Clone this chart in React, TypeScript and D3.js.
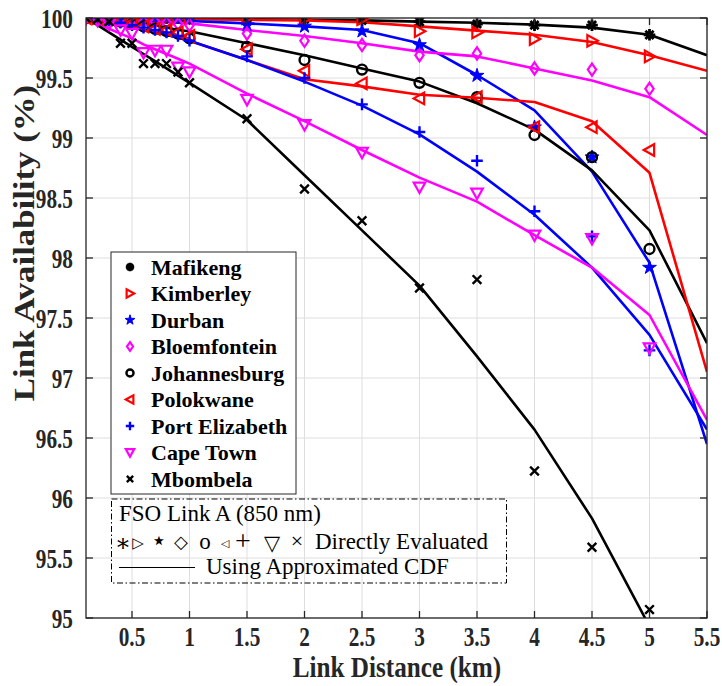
import React from 'react';
import * as d3 from 'd3';

const distances = [0.1, 0.2, 0.3, 0.4, 0.5, 0.6, 0.7, 0.8, 0.9, 1.0, 1.5, 2.0, 2.5, 3.0, 3.5, 4.0, 4.5, 5.0, 5.5];
const markerDistances = distances.slice(0, 18);

const cities = ['Mafikeng', 'Kimberley', 'Durban', 'Bloemfontein', 'Johannesburg', 'Polokwane', 'Port Elizabeth', 'Cape Town', 'Mbombela'];
const cityColors = ['#000000', '#ff0000', '#0000ff', '#ff00ff', '#000000', '#ff0000', '#0000ff', '#ff00ff', '#000000'];
const cityMarkers = ['asterisk', 'triangleRight', 'pentagram', 'diamond', 'circle', 'triangleLeft', 'plus', 'triangleDown', 'cross'];

// Directly evaluated (markers), distances 0.1 .. 5.0
const mafikengEval = [100, 100, 100, 100, 100, 100, 100, 100, 100, 100, 100, 99.99, 99.98, 99.97, 99.95, 99.94, 99.94, 99.86];
const kimberleyEval = [100, 100, 100, 100, 100, 100, 100, 100, 100, 100, 100, 99.99, 99.99, 99.89, 99.88, 99.825, 99.81, 99.68];
const durbanEval = [100, 100, 100, 100, 100, 100, 100, 100, 99.99, 99.99, 99.94, 99.93, 99.89, 99.775, 99.52, 99.09, 98.84, 97.92];
const bloemfonteinEval = [100, 100, 99.99, 99.99, 99.98, 99.97, 99.97, 99.96, 99.95, 99.94, 99.87, 99.81, 99.775, 99.69, 99.705, 99.58, 99.57, 99.41];
const johannesburgEval = [100, 100, 99.99, 99.97, 99.95, 99.93, 99.91, 99.89, 99.87, 99.83, 99.76, 99.65, 99.57, 99.46, 99.34, 99.025, 98.84, 98.075];
const polokwaneEval = [100, 100, 99.99, 99.98, 99.96, 99.93, 99.91, 99.9, 99.88, 99.85, 99.74, 99.56, 99.455, 99.33, 99.34, 99.09, 99.09, 98.9];
const portElizabethEval = [100, 99.99, 99.98, 99.96, 99.94, 99.92, 99.9, 99.88, 99.85, 99.81, 99.68, 99.5, 99.28, 99.05, 98.81, 98.39, 98.18, 97.23];
const capeTownEval = [100, 99.98, 99.95, 99.9, 99.87, 99.71, 99.73, 99.73, 99.59, 99.55, 99.32, 99.11, 98.88, 98.59, 98.54, 98.19, 98.16, 97.25];
const mbombelaEval = [100, 99.99, 99.97, 99.79, 99.79, 99.62, 99.62, 99.62, 99.55, 99.46, 99.16, 98.575, 98.31, 97.75, 97.82, 96.225, 95.59, 95.07];

// Using approximated CDF (lines), distances 0.1 .. 5.5
const mafikengApprox = [100, 100, 100, 100, 100, 100, 100, 100, 100, 99.995, 99.99, 99.985, 99.98, 99.97, 99.96, 99.945, 99.92, 99.86, 99.69];
const kimberleyApprox = [100, 100, 100, 100, 100, 100, 100, 100, 99.995, 99.99, 99.985, 99.98, 99.965, 99.93, 99.895, 99.86, 99.8, 99.69, 99.56];
const durbanApprox = [100, 100, 100, 99.995, 99.99, 99.99, 99.985, 99.98, 99.98, 99.975, 99.955, 99.93, 99.9, 99.79, 99.525, 99.23, 98.72, 97.96, 96.45];
const bloemfonteinApprox = [100, 99.995, 99.99, 99.985, 99.98, 99.975, 99.97, 99.965, 99.96, 99.955, 99.9, 99.85, 99.79, 99.72, 99.68, 99.58, 99.48, 99.34, 99.025];
const johannesburgApprox = [100, 99.99, 99.98, 99.97, 99.96, 99.95, 99.94, 99.92, 99.9, 99.89, 99.79, 99.69, 99.58, 99.47, 99.29, 99.07, 98.73, 98.23, 97.29];
const polokwaneApprox = [100, 99.98, 99.96, 99.94, 99.92, 99.9, 99.88, 99.86, 99.835, 99.81, 99.65, 99.49, 99.43, 99.36, 99.335, 99.3, 99.14, 98.71, 97.05];
const portElizabethApprox = [100, 99.98, 99.96, 99.94, 99.92, 99.9, 99.88, 99.86, 99.835, 99.81, 99.65, 99.47, 99.27, 99.03, 98.72, 98.36, 97.92, 97.36, 96.57];
const capeTownApprox = [100, 99.96, 99.91, 99.87, 99.83, 99.78, 99.74, 99.7, 99.66, 99.62, 99.37, 99.14, 98.9, 98.67, 98.47, 98.19, 97.92, 97.525, 96.65];
const mbombelaApprox = [100, 99.94, 99.88, 99.82, 99.76, 99.7, 99.64, 99.58, 99.52, 99.46, 99.15, 98.69, 98.23, 97.77, 97.18, 96.57, 95.83, 94.93, 93.8];

const xTicks = [0.5, 1, 1.5, 2, 2.5, 3, 3.5, 4, 4.5, 5, 5.5];
const xTickLabels = ['0.5', '1', '1.5', '2', '2.5', '3', '3.5', '4', '4.5', '5', '5.5'];
const yTicks = [95, 95.5, 96, 96.5, 97, 97.5, 98, 98.5, 99, 99.5, 100];
const yTickLabels = ['95', '95.5', '96', '96.5', '97', '97.5', '98', '98.5', '99', '99.5', '100'];

const evalSeries = [mafikengEval, kimberleyEval, durbanEval, bloemfonteinEval, johannesburgEval, polokwaneEval, portElizabethEval, capeTownEval, mbombelaEval];
const approxSeries = [mafikengApprox, kimberleyApprox, durbanApprox, bloemfonteinApprox, johannesburgApprox, polokwaneApprox, portElizabethApprox, capeTownApprox, mbombelaApprox];

const W = 722;
const H = 686;
const left = 86, right = 707, top = 18, bottom = 618;
const xScale = d3.scaleLinear().domain([0.1, 5.5]).range([left, right]);
const yScale = d3.scaleLinear().domain([95, 100]).range([bottom, top]);

const serif = { fontFamily: 'Liberation Serif, Times New Roman, DejaVu Serif, serif' };
const sym = { fontFamily: 'DejaVu Sans, sans-serif' };

function Marker({ type, x, y, s, color }: { type: string; x: number; y: number; s: number; color: string }) {
  const sw = 2.2;
  const t = `translate(${x},${y})`;
  switch (type) {
    case 'asterisk': {
      const k = s * 0.707;
      return <path transform={t} d={`M${-s},0H${s}M0,${-s}V${s}M${-k},${-k}L${k},${k}M${-k},${k}L${k},${-k}`} stroke={color} strokeWidth={2.8} fill="none" />;
    }
    case 'triangleRight':
      return <path transform={t} d={`M${s},0L${-s * 0.8},${-s}L${-s * 0.8},${s}Z`} stroke={color} strokeWidth={sw} fill="none" />;
    case 'triangleLeft':
      return <path transform={t} d={`M${-s},0L${s * 0.8},${-s}L${s * 0.8},${s}Z`} stroke={color} strokeWidth={sw} fill="none" />;
    case 'triangleDown':
      return <path transform={t} d={`M${-s},${-s * 0.8}L${s},${-s * 0.8}L0,${s}Z`} stroke={color} strokeWidth={sw} fill="none" />;
    case 'pentagram': {
      const size = (s * 1.25) * (s * 1.25) / 0.8908;
      const d = d3.symbol().type(d3.symbolStar).size(size)() as string;
      return <path transform={t} d={d} fill={color} stroke={color} strokeWidth={1} />;
    }
    case 'diamond':
      return <path transform={t} d={`M0,${-s * 1.05}L${s * 0.72},0L0,${s * 1.05}L${-s * 0.72},0Z`} stroke={color} strokeWidth={sw} fill="none" />;
    case 'circle':
      return <circle cx={x} cy={y} r={s * 0.85} stroke={color} strokeWidth={2.4} fill="none" />;
    case 'plus':
      return <path transform={t} d={`M${-s},0H${s}M0,${-s}V${s}`} stroke={color} strokeWidth={2.4} fill="none" />;
    case 'cross': {
      const k = s * 0.75;
      return <path transform={t} d={`M${-k},${-k}L${k},${k}M${-k},${k}L${k},${-k}`} stroke={color} strokeWidth={2.4} fill="none" />;
    }
    default:
      return null;
  }
}

export default function App() {
  const line = d3.line<number>().x((_, i) => xScale(distances[i])).y((v) => yScale(v));

  const tickLen = 7;
  const legendX = 111, legendY = 252, legendW = 185, legendH = 242;
  const rowY0 = 267, rowStep = 26.5;

  return (
    <svg width={W} height={H} style={{ position: 'absolute', left: 0, top: 0, background: '#fff' }} xmlns="http://www.w3.org/2000/svg">
      <defs>
        <clipPath id="plotClip">
          <rect x={left} y={top} width={right - left} height={bottom - top} />
        </clipPath>
      </defs>
      <rect x={0} y={0} width={W} height={H} fill="#ffffff" />

      {xTicks.map((t) => (
        <line key={'gx' + t} x1={xScale(t)} x2={xScale(t)} y1={top} y2={bottom} stroke="#dedede" strokeWidth={1} />
      ))}
      {yTicks.map((t) => (
        <line key={'gy' + t} x1={left} x2={right} y1={yScale(t)} y2={yScale(t)} stroke="#dedede" strokeWidth={1} />
      ))}

      <g clipPath="url(#plotClip)">
        {approxSeries.map((vals, i) => (
          <path key={'l' + i} d={line(vals) as string} fill="none" stroke={cityColors[i]} strokeWidth={2.6} strokeLinejoin="round" />
        ))}
        {evalSeries.map((vals, i) => (
          <g key={'m' + i}>
            {vals.map((v, j) => (
              <Marker key={j} type={cityMarkers[i]} x={xScale(markerDistances[j])} y={yScale(v)} s={5.8} color={cityColors[i]} />
            ))}
          </g>
        ))}
      </g>

      <rect x={left} y={top} width={right - left} height={bottom - top} fill="none" stroke="#262626" strokeWidth={1.3} />
      {xTicks.map((t) => (
        <g key={'tx' + t}>
          <line x1={xScale(t)} x2={xScale(t)} y1={bottom} y2={bottom - tickLen} stroke="#262626" strokeWidth={1.3} />
          <line x1={xScale(t)} x2={xScale(t)} y1={top} y2={top + tickLen} stroke="#262626" strokeWidth={1.3} />
        </g>
      ))}
      {yTicks.map((t) => (
        <g key={'ty' + t}>
          <line x1={left} x2={left + tickLen} y1={yScale(t)} y2={yScale(t)} stroke="#262626" strokeWidth={1.3} />
          <line x1={right} x2={right - tickLen} y1={yScale(t)} y2={yScale(t)} stroke="#262626" strokeWidth={1.3} />
        </g>
      ))}

      {xTicks.map((t, i) => (
        <text key={'xl' + t} transform={`translate(${xScale(t)},646) scale(0.76,1)`} textAnchor="middle" style={serif} fontWeight="bold" fontSize={28} fill="#262626">
          {xTickLabels[i]}
        </text>
      ))}
      {yTicks.map((t, i) => (
        <text key={'yl' + t} transform={`translate(73,${yScale(t) + 9.5}) scale(0.76,1)`} textAnchor="end" style={serif} fontWeight="bold" fontSize={28} fill="#262626">
          {yTickLabels[i]}
        </text>
      ))}

      <text transform={`translate(397,677) scale(0.84,1)`} textAnchor="middle" style={serif} fontWeight="bold" fontSize={30} fill="#262626">
        Link Distance (km)
      </text>
      <text transform={`translate(34,243) rotate(-90) scale(1.16,1)`} textAnchor="middle" style={serif} fontWeight="bold" fontSize={30} fill="#262626">
        Link Availability (%)
      </text>

      <rect x={legendX} y={legendY} width={legendW} height={legendH} fill="#ffffff" stroke="#262626" strokeWidth={1} />
      {cities.map((c, i) => (
        <g key={'lg' + i}>
          <Marker type={cityMarkers[i]} x={130} y={rowY0 + i * rowStep} s={4.2} color={cityColors[i]} />
          <text x={151} y={rowY0 + i * rowStep + 7.5} style={serif} fontWeight="bold" fontSize={22} fill="#000">
            {c}
          </text>
        </g>
      ))}

      <rect x={111.5} y={499} width={395} height={84} fill="none" stroke="#000" strokeWidth={1} strokeDasharray="6,2.5,1.5,2.5" />
      <text x={119} y={521} style={serif} fontSize={23} fill="#000">FSO Link A (850 nm)</text>
      <text x={123} y={551} textAnchor="middle" style={serif} fontSize={24} fill="#000">∗</text>
      <text x={138} y={547.5} textAnchor="middle" style={sym} fontSize={15} fill="#000">▷</text>
      <text x={159} y={549} textAnchor="middle" style={sym} fontSize={26} fill="#000">⋆</text>
      <text x={181} y={547.5} textAnchor="middle" style={sym} fontSize={18} fill="#000">◇</text>
      <text x={205} y={549} textAnchor="middle" style={serif} fontSize={23} fill="#000">o</text>
      <text x={225} y={546.5} textAnchor="middle" style={sym} fontSize={11} fill="#000">◁</text>
      <text x={243} y={550} textAnchor="middle" style={serif} fontSize={28} fill="#000">+</text>
      <text x={272} y={549.5} textAnchor="middle" style={sym} fontSize={21} fill="#000">▽</text>
      <text x={297} y={548} textAnchor="middle" style={serif} fontSize={22} fill="#000">×</text>
      <text x={315} y={549} style={serif} fontSize={23} fill="#000">Directly Evaluated</text>
      <line x1={119} x2={195} y1={567.5} y2={567.5} stroke="#000" strokeWidth={1} />
      <text x={206} y={574} style={serif} fontSize={23} fill="#000">Using Approximated CDF</text>
    </svg>
  );
}
